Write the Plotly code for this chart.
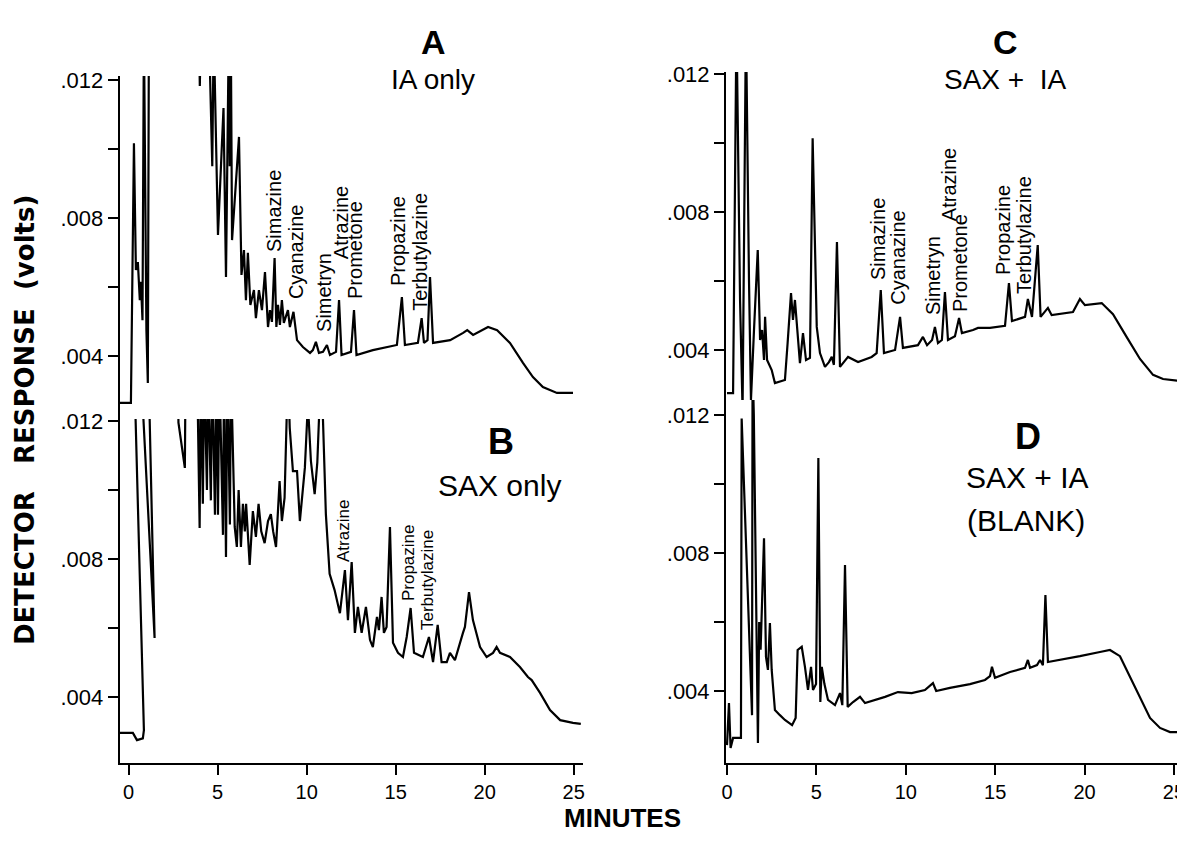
import plotly.graph_objects as go

# chromatogram A - IA only (minutes, volts)
a_t = [-0.50, 0.13, 0.30, 0.41, 0.52, 0.63, 0.69, 0.78, 0.86, 1.00, 1.08, 1.14, 3.95, 4.00, 4.06, 4.51,
       4.70, 4.78, 5.02, 5.33, 5.47, 5.63, 5.68, 5.74, 5.81, 6.20, 6.34, 6.48, 6.59, 6.70, 6.84, 7.04,
       7.15, 7.32, 7.49, 7.66, 7.83, 7.94, 8.05, 8.20, 8.30, 8.39, 8.50, 8.61, 8.72, 8.95, 9.06, 9.26,
       9.46, 9.79, 10.19, 10.35, 10.52, 10.69, 10.92, 11.14, 11.31, 11.65, 11.82, 11.96, 12.49, 12.66,
       12.80, 13.72, 15.07, 15.35, 15.52, 16.25, 16.46, 16.59, 16.79, 16.93, 17.10, 18.06, 18.79, 19.02,
       19.35, 20.19, 20.70, 21.42, 22.15, 22.71, 23.27, 24.06, 24.96]
a_v = [0.00264, 0.00264, 0.01017, 0.00649, 0.00672, 0.00562, 0.00615, 0.00504, 0.0135, 0.00475, 0.00322,
       0.0135, 0.0135, 0.01183, 0.0135, 0.0135, 0.00950, 0.0135, 0.00751, 0.01119, 0.00629, 0.0135,
       0.0095, 0.0135, 0.00736, 0.01035, 0.00635, 0.00707, 0.00562, 0.00699, 0.00548, 0.00591, 0.00510,
       0.00591, 0.00533, 0.00643, 0.00484, 0.00533, 0.00499, 0.00684, 0.00484, 0.00548, 0.00490, 0.00562,
       0.00496, 0.00533, 0.00484, 0.00528, 0.00446, 0.00426, 0.00409, 0.00417, 0.00441, 0.00409, 0.00412,
       0.00432, 0.00403, 0.00412, 0.00562, 0.00403, 0.00412, 0.00533, 0.00403, 0.00417, 0.00432, 0.00571,
       0.00432, 0.00438, 0.00510, 0.00438, 0.00446, 0.00629, 0.00438, 0.00446, 0.00467, 0.00475, 0.00461,
       0.00484, 0.00475, 0.00438, 0.00380, 0.00339, 0.00310, 0.00293, 0.00293]

# chromatogram B - SAX only
b_t = [-0.50, 0.24, 0.47, 0.80, 0.86, 0.39, 0.40, 0.69, 1.46, 1.12, 2.77, 2.80, 3.16, 3.20, 3.85, 3.99,
       4.05, 4.17, 4.25, 4.40, 4.47, 4.62, 4.70, 4.85, 4.93, 5.02, 5.10, 5.30, 5.36, 5.47, 5.55, 5.69,
       5.75, 5.96, 6.08, 6.18, 6.31, 6.42, 6.53, 6.60, 6.80, 6.98, 7.15, 7.30, 7.45, 7.64, 7.83, 7.99,
       8.12, 8.28, 8.48, 8.61, 8.76, 8.95, 9.05, 9.23, 9.46, 9.62, 9.90, 10.07, 10.24, 10.45, 10.60, 10.80,
       10.92, 11.08, 11.29, 11.57, 11.87, 12.15, 12.32, 12.53, 12.71, 12.88, 13.09, 13.33, 13.56, 13.72,
       13.95, 14.06, 14.21, 14.34, 14.49, 14.68, 14.85, 15.13, 15.41, 15.62, 15.84, 16.03, 16.53, 16.87,
       17.10, 17.36, 17.58, 17.87, 18.05, 18.33, 18.78, 18.89, 19.12, 19.34, 19.74, 20.11, 20.47, 20.67,
       20.86, 21.42, 21.98, 22.43, 22.64, 23.11, 23.67, 24.24, 24.96, 25.40]
b_v = [0.00296, 0.00296, 0.00275, 0.00280, 0.00304, 0.0121, 0.0135, 0.0135, 0.00571, 0.0135, 0.0135,
       0.01195, 0.01064, 0.0135, 0.0135, 0.00890, 0.0135, 0.00960, 0.0135, 0.01000, 0.0135, 0.00970,
       0.0135, 0.00928, 0.0135, 0.00928, 0.0135, 0.00870, 0.0135, 0.00806, 0.0135, 0.00900, 0.0135,
       0.00893, 0.00835, 0.01000, 0.00835, 0.00960, 0.00880, 0.00960, 0.00783, 0.00939, 0.00864, 0.00960,
       0.00880, 0.00846, 0.00910, 0.00930, 0.00880, 0.00835, 0.01026, 0.00910, 0.00977, 0.0135, 0.01180,
       0.01055, 0.01055, 0.00910, 0.01064, 0.0125, 0.01084, 0.00988, 0.01080, 0.0135, 0.01200, 0.00930,
       0.00757, 0.00710, 0.00643, 0.00768, 0.00623, 0.00791, 0.00586, 0.00661, 0.00586, 0.00661, 0.00565,
       0.00545, 0.00632, 0.00594, 0.00690, 0.00586, 0.00603, 0.00893, 0.00557, 0.00528, 0.00516, 0.00574,
       0.00658, 0.00528, 0.00516, 0.00574, 0.00501, 0.00609, 0.00501, 0.00501, 0.00528, 0.00507, 0.00586,
       0.00603, 0.00704, 0.00623, 0.00545, 0.00516, 0.00528, 0.00545, 0.00528, 0.00516, 0.00487, 0.00458,
       0.00449, 0.00412, 0.00362, 0.00333, 0.00325, 0.00322]

# chromatogram C - SAX + IA
c_t = [0.00, 0.34, 0.53, 0.73, 0.87, 1.06, 1.23, 1.34, 1.51, 1.72, 1.85, 1.96, 2.07, 2.13, 2.24, 2.50,
       2.68, 3.24, 3.39, 3.58, 3.69, 3.80, 4.08, 4.25, 4.42, 4.64, 4.79, 5.02, 5.20, 5.48, 5.70, 5.86,
       5.98, 6.15, 6.32, 6.77, 7.33, 8.09, 8.37, 8.60, 8.78, 9.40, 9.68, 9.84, 10.68, 10.96, 11.19, 11.47,
       11.63, 11.80, 12.02, 12.19, 12.36, 12.75, 12.98, 13.14, 13.76, 14.04, 14.71, 15.55, 15.77, 15.94,
       16.67, 16.83, 17.06, 17.38, 17.54, 17.95, 18.16, 19.35, 19.74, 20.02, 20.96, 21.59, 22.35, 23.10,
       23.83, 24.39, 25.34]
c_v = [0.00275, 0.00275, 0.0135, 0.00545, 0.00226, 0.0135, 0.00603, 0.00255, 0.00458, 0.00690, 0.00429,
       0.00458, 0.00371, 0.00496, 0.00371, 0.00342, 0.00304, 0.00313, 0.00420, 0.00565, 0.00487, 0.00545,
       0.00362, 0.00449, 0.00371, 0.00377, 0.01014, 0.00467, 0.00391, 0.00351, 0.00365, 0.00380, 0.00357,
       0.00713, 0.00351, 0.00380, 0.00365, 0.00380, 0.00391, 0.00574, 0.00391, 0.00400, 0.00496, 0.00406,
       0.00414, 0.00438, 0.00414, 0.00429, 0.00467, 0.00420, 0.00429, 0.00568, 0.00429, 0.00440, 0.00493,
       0.00449, 0.00458, 0.00464, 0.00464, 0.00470, 0.00594, 0.00484, 0.00496, 0.00548, 0.00496, 0.00704,
       0.00496, 0.00522, 0.00501, 0.00510, 0.00548, 0.00530, 0.00536, 0.00504, 0.00438, 0.00374, 0.00328,
       0.00316, 0.00310]

# chromatogram D - SAX + IA blank
d_t = [0.00, 0.11, 0.20, 0.34, 0.78, 0.82, 1.40, 1.43, 1.50, 1.73, 1.80, 1.88, 2.07, 2.18, 2.29, 2.40,
       2.50, 2.68, 2.96, 3.24, 3.64, 3.84, 3.95, 4.18, 4.36, 4.53, 4.70, 4.81, 4.98, 5.11, 5.22, 5.30,
       5.45, 5.65, 6.04, 6.32, 6.45, 6.60, 6.75, 7.05, 7.44, 7.72, 8.84, 9.56, 10.33, 11.07, 11.52, 11.70,
       12.47, 13.59, 14.43, 14.71, 14.82, 14.99, 15.83, 16.67, 16.83, 16.95, 17.34, 17.51, 17.67, 17.81,
       17.95, 18.62, 19.74, 20.86, 21.42, 21.98, 22.82, 23.66, 24.22, 24.78, 25.34]
d_v = [0.00243, 0.00365, 0.00235, 0.00264, 0.00264, 0.01190, 0.00330, 0.0135, 0.0120, 0.00249, 0.00600,
       0.00520, 0.00843, 0.00499, 0.00461, 0.00597, 0.00461, 0.00345, 0.00330, 0.00316, 0.00301, 0.00322,
       0.00519, 0.00528, 0.00470, 0.00403, 0.00470, 0.00403, 0.00420, 0.01075, 0.00368, 0.00470, 0.00420,
       0.00374, 0.00359, 0.00394, 0.00359, 0.00765, 0.00354, 0.00368, 0.00383, 0.00365, 0.00383, 0.00397,
       0.00394, 0.00403, 0.00423, 0.00400, 0.00409, 0.00420, 0.00432, 0.00443, 0.00470, 0.00438, 0.00455,
       0.00467, 0.00490, 0.00467, 0.00475, 0.00490, 0.00475, 0.00678, 0.00484, 0.00490, 0.00501, 0.00513,
       0.00519, 0.00501, 0.00409, 0.00322, 0.00293, 0.00281, 0.00281]

# peak labels
a_names = ["Simazine", "Cyanazine", "Simetryn", "Atrazine", "Prometone", "Propazine", "Terbutylazine"]
a_lab_t = [8.16, 9.40, 10.98, 11.93, 12.71, 15.13, 16.40]
a_lab_v = [0.00820, 0.00704, 0.00583, 0.00788, 0.00707, 0.00733, 0.00701]

b_names = ["Atrazine", "Propazine", "Terbutylazine"]
b_lab_t = [12.04, 15.69, 16.76]
b_lab_v = [0.00881, 0.00791, 0.00739]

c_names = ["Simazine", "Cyanazine", "Simetryn", "Atrazine", "Prometone", "Propazine", "Terbutylazine"]
c_lab_t = [8.45, 9.56, 11.52, 12.42, 13.03, 15.44, 16.61]
c_lab_v = [0.00722, 0.00670, 0.00617, 0.00878, 0.00652, 0.00748, 0.00733]

minutes = [0, 5, 10, 15, 20, 25]
volts = [0.004, 0.006, 0.008, 0.010, 0.012]
volt_text = [".004", "", ".008", "", ".012"]

FONT = "Liberation Sans, Arial, sans-serif"

fig = go.Figure()
panels = [(a_t, a_v, "x", "y"), (b_t, b_v, "x2", "y2"), (c_t, c_v, "x3", "y3"), (d_t, d_v, "x4", "y4")]
for t, v, xa, ya in panels:
    fig.add_trace(go.Scatter(x=t, y=v, mode="lines", xaxis=xa, yaxis=ya,
                             line=dict(color="black", width=2.2), showlegend=False, hoverinfo="skip"))

left_dom = [0.09555, 0.49153]
right_dom = [0.61420, 1.0]


def xax(dom, rng, visible):
    return dict(domain=dom, range=rng, showgrid=False, zeroline=False, automargin=False,
                showline=visible, linecolor="black", linewidth=2,
                ticks="outside" if visible else "", ticklen=10, tickwidth=2, tickcolor="black",
                tickvals=minutes, showticklabels=visible, ticklabeloverflow="allow",
                tickfont=dict(family=FONT, size=20, color="black"))


def yax(dom, rng, anchor):
    return dict(domain=dom, range=rng, anchor=anchor, showgrid=False, zeroline=False, automargin=False,
                showline=True, linecolor="black", linewidth=2,
                ticks="outside", ticklen=10, tickwidth=2, tickcolor="black",
                tickvals=volts, ticktext=volt_text, ticklabeloverflow="allow",
                tickfont=dict(family=FONT, size=22, color="black"))


fig.update_layout(
    width=1169, height=828, autosize=False,
    margin=dict(l=0, r=0, t=0, b=0, pad=0),
    paper_bgcolor="white", plot_bgcolor="white",
    xaxis=dict(xax(left_dom, [-0.5, 25.5], False), anchor="y"),
    xaxis2=dict(xax(left_dom, [-0.5, 25.5], True), anchor="y2"),
    xaxis3=dict(xax(right_dom, [-0.056, 25.17], False), anchor="y3"),
    xaxis4=dict(xax(right_dom, [-0.056, 25.17], True), anchor="y4"),
    yaxis=yax([0.50362, 0.91787], [0.002174, 0.012116], "x"),
    yaxis2=yax([0.08816, 0.50362], [0.002087, 0.012058], "x2"),
    yaxis3=yax([0.52657, 0.92271], [0.002551, 0.012058], "x3"),
    yaxis4=yax([0.08816, 0.52657], [0.001913, 0.012435], "x4"),
)

ann = []
for names, ts, vs, xr, yr, size in [(a_names, a_lab_t, a_lab_v, "x", "y", 20),
                                     (b_names, b_lab_t, b_lab_v, "x2", "y2", 17),
                                     (c_names, c_lab_t, c_lab_v, "x3", "y3", 20)]:
    for n, t, v in zip(names, ts, vs):
        ann.append(dict(text=n, x=t, y=v, xref=xr, yref=yr, textangle=-90, showarrow=False,
                        xanchor="center", yanchor="middle",
                        font=dict(family=FONT, size=size, color="black")))

titles = [("<b>A</b>", 0.36356, 0.95894, 34), ("IA only", 0.36356, 0.91425, 28),
          ("<b>C</b>", 0.85372, 0.95894, 34), ("SAX +  IA", 0.85287, 0.91425, 28),
          ("<b>B</b>", 0.42173, 0.47705, 36), ("SAX only", 0.42087, 0.42391, 30),
          ("<b>D</b>", 0.87254, 0.48309, 36), ("SAX + IA", 0.87254, 0.43237, 30),
          ("(BLANK)", 0.87083, 0.38164, 30)]
for txt, x, y, size in titles:
    ann.append(dict(text=txt, x=x, y=y, xref="paper", yref="paper", showarrow=False,
                    xanchor="center", yanchor="middle",
                    font=dict(family=FONT, size=size, color="black")))

ann.append(dict(text="<b>DETECTOR   RESPONSE  (volts)</b>", x=0.01454, y=0.50242, xref="paper", yref="paper",
                textangle=-90, showarrow=False, xanchor="center", yanchor="middle",
                font=dict(family="DejaVu Sans, sans-serif", size=26, color="black")))
ann.append(dict(text="<b>MINUTES</b>", x=0.52524, y=0.02174, xref="paper", yref="paper",
                showarrow=False, xanchor="center", yanchor="middle",
                font=dict(family=FONT, size=26, color="black")))
fig.update_layout(annotations=ann)

fig.write_html("out.html")
